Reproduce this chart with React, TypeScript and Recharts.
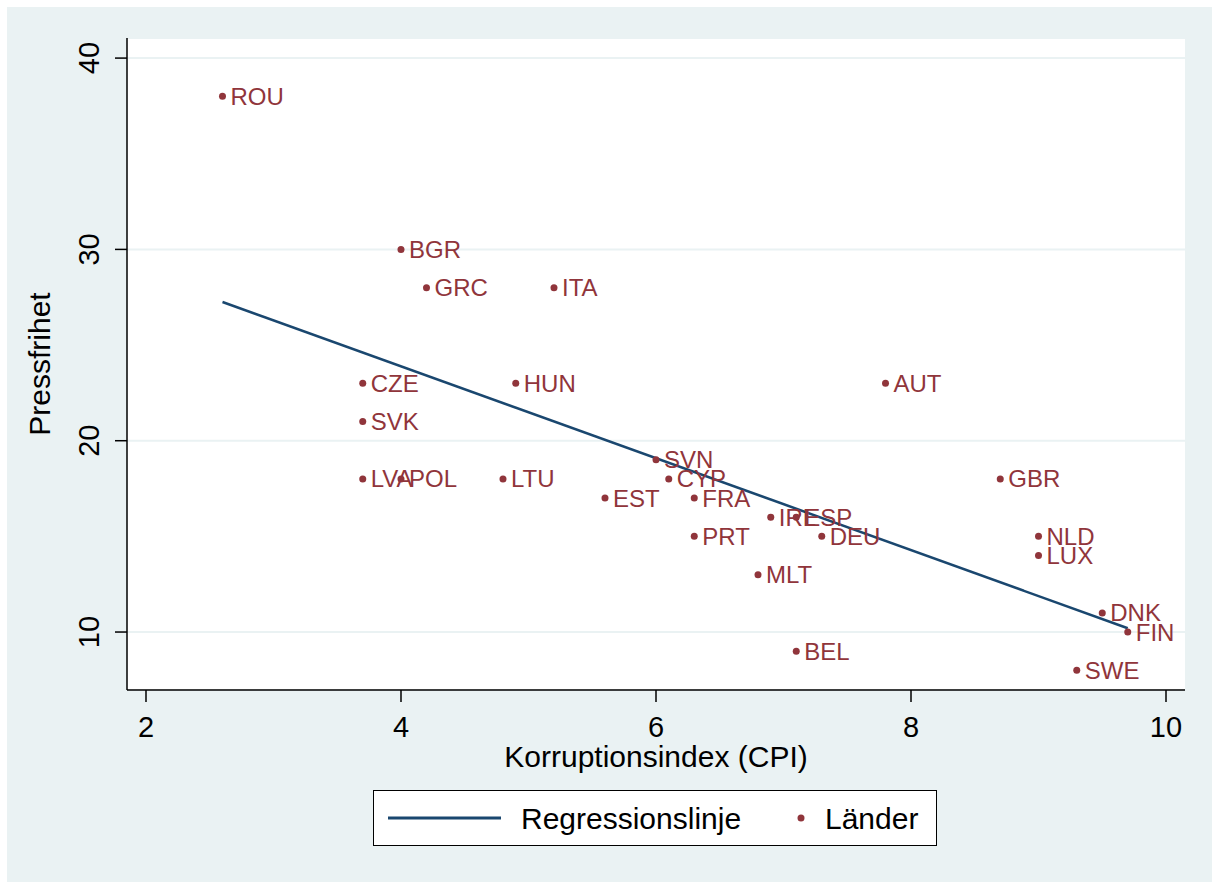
import React from 'react';
import { ScatterChart, Scatter, XAxis, YAxis, CartesianGrid, Legend } from 'recharts';

const countries = ['ROU', 'BGR', 'GRC', 'ITA', 'CZE', 'HUN', 'AUT', 'SVK', 'SVN', 'LVA', 'POL', 'LTU', 'CYP', 'GBR', 'EST', 'FRA', 'IRL', 'ESP', 'PRT', 'DEU', 'NLD', 'LUX', 'MLT', 'DNK', 'FIN', 'BEL', 'SWE'];
const cpi = [2.6, 4.0, 4.2, 5.2, 3.7, 4.9, 7.8, 3.7, 6.0, 3.7, 4.0, 4.8, 6.1, 8.7, 5.6, 6.3, 6.9, 7.1, 6.3, 7.3, 9.0, 9.0, 6.8, 9.5, 9.7, 7.1, 9.3];
const pressfrihet = [38, 30, 28, 28, 23, 23, 23, 21, 19, 18, 18, 18, 18, 18, 17, 17, 16, 16, 15, 15, 15, 14, 13, 11, 10, 9, 8];

const regressionX = [2.6, 9.7];
const regressionY = [27.25, 10.2];

const xTicks = [2, 4, 6, 8, 10];
const yTicks = [10, 20, 30, 40];

const xDomain = [1.851, 10.149];
const yDomain = [6.97, 41.05];

const countryData = countries.map((name, i) => ({ name, x: cpi[i], y: pressfrihet[i] }));
const regressionData = regressionX.map((x, i) => ({ x, y: regressionY[i] }));

const FONT = '"Liberation Sans", Arial, Helvetica, sans-serif';
const MAROON = '#90353B';
const NAVY = '#1A476F';
const BG = '#EAF2F3';

const W = 1205;
const H = 875;
const PLOT_LEFT = 120;
const PLOT_TOP = 31;
const PLOT_RIGHT = 1178;
const PLOT_BOTTOM = 683;

const CountryShape = (props: any) => {
  const { cx, cy, payload } = props;
  if (cx == null || cy == null) return <g />;
  return (
    <g>
      <circle cx={cx} cy={cy} r={3.5} fill={MAROON} />
      <text x={cx + 8} y={cy + 8.5} fontSize={24} fill={MAROON} fontFamily={FONT}>
        {payload.name}
      </text>
    </g>
  );
};

const NoShape = () => <g />;

const XTick = (props: any) => {
  const { x, payload } = props;
  return (
    <text x={x} y={PLOT_BOTTOM + 47} textAnchor="middle" fontSize={29} fill="#000" fontFamily={FONT}>
      {payload.value}
    </text>
  );
};

const YTick = (props: any) => {
  const { y, payload } = props;
  return (
    <text
      transform={`translate(${PLOT_LEFT - 28}, ${y}) rotate(-90)`}
      textAnchor="middle"
      fontSize={29}
      fill="#000"
      fontFamily={FONT}
    >
      {payload.value}
    </text>
  );
};

const LegendContent = () => (
  <div
    style={{
      boxSizing: 'border-box',
      width: 564,
      height: 56,
      border: '1.5px solid #000',
      background: '#fff',
      position: 'relative',
      fontFamily: FONT,
      fontSize: 30,
      color: '#000',
    }}
  >
    <svg width={564} height={56} style={{ position: 'absolute', left: -1.5, top: -1.5 }}>
      <line x1={15} y1={28} x2={128} y2={28} stroke={NAVY} strokeWidth={3} />
      <text x={148} y={39} fontSize={30} fontFamily={FONT} fill="#000">Regressionslinje</text>
      <circle cx={428} cy={28} r={3.5} fill={MAROON} />
      <text x={452} y={39} fontSize={30} fontFamily={FONT} fill="#000">Länder</text>
    </svg>
  </div>
);

export default function App() {
  return (
    <div style={{ position: 'fixed', left: 7, top: 7, width: W, height: H, background: BG }}>
      <ScatterChart
        width={W}
        height={H}
        margin={{ top: PLOT_TOP, right: W - PLOT_RIGHT, bottom: H - PLOT_BOTTOM - 60, left: 0 }}
      >
        <CartesianGrid horizontal vertical={false} fill="#fff" stroke={BG} strokeWidth={2} />
        <XAxis
          type="number"
          dataKey="x"
          domain={xDomain}
          ticks={xTicks}
          allowDataOverflow
          height={60}
          tickSize={12}
          tick={<XTick />}
          axisLine={{ stroke: '#000', strokeWidth: 1.5 }}
          tickLine={{ stroke: '#000', strokeWidth: 1.5 }}
          label={{
            content: () => (
              <text
                x={(PLOT_LEFT + PLOT_RIGHT) / 2}
                y={PLOT_BOTTOM + 77}
                textAnchor="middle"
                fontSize={30}
                fontFamily={FONT}
                fill="#000"
              >
                Korruptionsindex (CPI)
              </text>
            ),
          }}
        />
        <YAxis
          type="number"
          dataKey="y"
          domain={yDomain}
          ticks={yTicks}
          allowDataOverflow
          width={PLOT_LEFT}
          tickSize={12}
          tick={<YTick />}
          axisLine={{ stroke: '#000', strokeWidth: 1.5 }}
          tickLine={{ stroke: '#000', strokeWidth: 1.5 }}
          label={{
            content: () => (
              <text
                transform={`translate(43, ${(PLOT_TOP + PLOT_BOTTOM) / 2}) rotate(-90)`}
                textAnchor="middle"
                fontSize={30}
                fontFamily={FONT}
                fill="#000"
              >
                Pressfrihet
              </text>
            ),
          }}
        />
        <Scatter
          name="Regressionslinje"
          data={regressionData}
          line={{ stroke: NAVY, strokeWidth: 2.5 }}
          lineType="joint"
          shape={<NoShape />}
          isAnimationActive={false}
        />
        <Scatter
          name="Länder"
          data={countryData}
          shape={<CountryShape />}
          isAnimationActive={false}
        />
        <Legend
          layout="horizontal"
          verticalAlign="middle"
          align="center"
          content={<LegendContent />}
          wrapperStyle={{ position: 'absolute', left: 366, top: 783, width: 564, height: 56 }}
        />
      </ScatterChart>
    </div>
  );
}
